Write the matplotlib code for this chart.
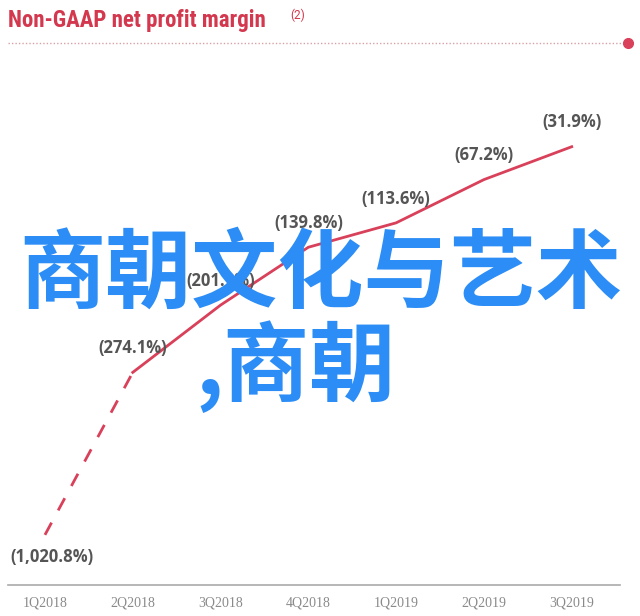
import numpy as np
import matplotlib
matplotlib.use('Agg')
import matplotlib.pyplot as plt

# Data
quarters = ['1Q2018', '2Q2018', '3Q2018', '4Q2018', '1Q2019', '2Q2019', '3Q2019']
margin = [-1020.8, -274.1, -201.9, -139.8, -113.6, -67.2, -31.9]
labels = ['(1,020.8%)', '(274.1%)', '(201.9%)', '(139.8%)', '(113.6%)', '(67.2%)', '(31.9%)']

red = '#d9405a'
x = np.arange(len(quarters))

fig = plt.figure(figsize=(6.4, 6.16), dpi=100)
ax = fig.add_axes([8 / 640, 31 / 616, 612 / 640, 468 / 616])
# linear near zero, compressed beyond ~290% (broken-looking axis of the original)
ax.set_yscale('symlog', linthresh=290, linscale=0.9)

# dashed first segment, solid after
ax.plot(x[:2], margin[:2], color=red, lw=2, linestyle=(0, (5, 5)))
ax.plot(x[1:], margin[1:], color=red, lw=2)

for i, (xi, yi) in enumerate(zip(x, margin)):
    off = (5, -16) if i == 0 else (0, 17.5)
    ax.annotate(labels[i], (xi, yi), xytext=off, textcoords='offset points',
                ha='center', va='center', fontsize=12, fontweight='bold',
                color='#555555', family='Open Sans', stretch='condensed')

ax.set_xlim(-0.421, 6.55)
ax.set_ylim(-1565, 0)
ax.set_xticks(x)
ax.set_xticklabels(quarters, family='Liberation Serif', fontsize=10, color='#8a8a8a')
ax.tick_params(axis='x', length=0, pad=8)
ax.set_yticks([])
ax.minorticks_off()
for s in ['top', 'right', 'left']:
    ax.spines[s].set_visible(False)
ax.spines['bottom'].set_color('#aaaaaa')
ax.spines['bottom'].set_linewidth(1.2)
ax.patch.set_alpha(0)

# title and dotted rule
fig.text(8 / 640, 1 - 20 / 616, 'Non-GAAP net profit margin', color='#d3384f',
         fontsize=16.5, fontweight='bold', family='Roboto Condensed', va='center', ha='left')
fig.text(290 / 640, 1 - 15 / 616, '(2)', color='#d3384f', fontsize=8.5, family='Roboto',
         va='center', ha='left')
fig.add_artist(plt.Line2D([8 / 640, 628 / 640], [1 - 43 / 616, 1 - 43 / 616],
                          color='#d9a0a8', lw=1, linestyle=(0, (1, 1.5))))
fig.add_artist(plt.Line2D([628 / 640], [1 - 43 / 616], marker='o', markersize=7,
                          color=red, lw=0))

# overlay text
fig.text(321 / 640, 1 - 275 / 616, '商朝文化与艺术', color='#2b8df5', fontsize=62,
         fontweight='bold', family='Noto Sans CJK SC', ha='center', va='center')
fig.text(195 / 640, 1 - 367 / 616, ',商朝', color='#2b8df5', fontsize=62,
         fontweight='bold', family='Noto Sans CJK SC', ha='left', va='center')

fig.savefig('out.png', dpi=100)
